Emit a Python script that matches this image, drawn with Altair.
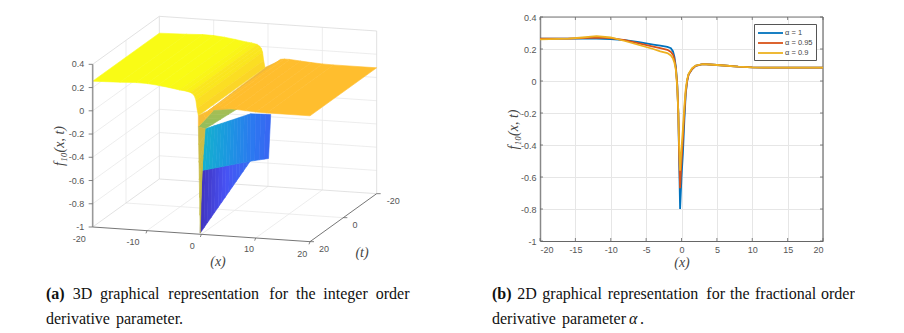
import altair as alt
import pandas as pd

# ---------- 2D panel data ----------
X_A1 = [-20,-16,-12,-10,-8,-6,-4,-3,-2,-1.5,-1.2,-1,-.8,-.6,-.45,-.35,-.2,0,.2,.4,.6,.8,1,1.5,2,3,4,6,8,10,12,20]
Z_A1 = [.265,.265,.265,.262,.255,.243,.228,.221,.213,.205,.185,.15,.09,-.02,-.2,-.45,-.8,-.6,-.45,-.25,-.08,0,.04,.075,.095,.105,.103,.097,.09,.085,.083,.083]
X_A2 = [-20,-16,-14,-12,-10,-8,-6,-4,-3,-2,-1.5,-1.2,-1,-.8,-.6,-.45,-.35,-.2,0,.2,.4,.6,.8,1,1.5,2,3,4,6,8,10,12,20]
Z_A2 = [.265,.265,.268,.272,.268,.255,.235,.215,.205,.195,.182,.165,.135,.08,-.03,-.2,-.42,-.67,-.5,-.36,-.2,-.07,0,.04,.075,.095,.105,.103,.097,.09,.085,.083,.083]
Z_A3 = [.26,.265,.272,.28,.272,.25,.225,.2,.185,.175,.16,.14,.115,.07,-.04,-.2,-.38,-.56,-.42,-.3,-.16,-.05,.01,.045,.08,.097,.105,.103,.097,.09,.085,.083,.083]
ALPHAS = ["α = 1", "α = 0.95", "α = 0.9"]
LINE_COLORS = ["#0072BD", "#D95319", "#EDB120"]
X_TICKS = [-20,-15,-10,-5,0,5,10,15,20]
Y_TICKS = [-1,-.8,-.6,-.4,-.2,0,.2,.4]

# ---------- 3D surface data ----------
LEFT_X = [-20,-15,-12,-10,-8,-6,-4,-3,-2,-1.5,-1.2,-1,-.8,-.55]
LEFT_Z = [.255,.262,.268,.266,.258,.245,.23,.225,.215,.2,.18,.15,.08,.02]
LEFT_C = [1,1,1,1,1,1,.99,.98,.97,.93,.96,.93,.92,.89]
RIGHT_X = [2.3,3,4,6,8,10,12,20]
RIGHT_Z = [.1,.105,.105,.097,.09,.085,.083,.083]
RIGHT_C = [.85,.85,.85,.85,.85,.85,.85,.85]
# valley patches: four corners (x, t, f, colour position)
BLUE_TIP = [(-.2,20,-.99,.02),(.1,20,-.45,.04),(.1,-9,-.67,.17),(.1,-9,-.67,.17)]
CYAN_LEFT = [(.1,20,-.45,.41),(.7,20,-.09,.38),(.5,-8,-.25,.22),(.1,-9,-.67,.2)]
BLUE_RIGHT = [(.1,-9,-.67,.2),(.5,-8,-.25,.22),(.5,-20,-.38,.15),(.1,-20,-.76,.15)]
GREEN = [(-.55,20,-.075,.66),(.7,20,-.09,.64),(.7,1,-.117,.66),(-.55,11,-.03,.69)]
ORANGE_STRIP = [(-.55,14,0,.8),(2.5,20,.11,.8),(2.2,-20,.09,.8),(-.55,-20,.02,.8)]
ORANGE_FRONT = [(-.55,11,-.03,.82),(6.5,20,.097,.84),(2.5,20,.11,.84),(-.55,14,0,.82)]
YELLOW_FRONT = [(-.55,20,.02,.86),(-.55,20,-.075,.78),(-.55,11,-.03,.82),(-.55,14,0,.86)]
STRIP = [(-.55,20,-.075,.75),(.7,20,-.09,.74),(.1,20,-.45,.73),(-.2,20,-.99,.7)]
Z3_TICKS = [-1,-.8,-.6,-.4,-.2,0,.2,.4]
X3_TICKS = [-20,-10,0,10,20]
T3_TICKS = [-20,0,20]

# ---------- layout of the left view ----------
W, H = 532, 312
PANEL_X, PANEL_Y = 8, 16

def proj(x, t, z, dx=0, dy=0):
    w, u = x + 20, 20 - t
    xz = 188 + 16.3 * w + 5 * u + dx
    yz = 678 + 1.1 * w - 3.6 * u - 348.6 * (z + 1) + dy
    return 30 + xz / 3 - PANEL_X, yz / 3 - PANEL_Y

features = []
def add_quad(a, b, c, d, n=1):
    # a-b is one edge, d-c the opposite one, split into n strips
    for i in range(n):
        s0, s1 = i / n, (i + 1) / n
        def mix(p, q, s):
            return tuple(p[k] + (q[k] - p[k]) * s for k in range(4))
        vs = [mix(a, d, s0), mix(b, c, s0), mix(b, c, s1), mix(a, d, s1)]
        ring = [list(proj(v[0], v[1], v[2])) for v in vs]
        ring.append(ring[0])
        col = sum(v[3] for v in vs) / 4
        features.append({"type": "Feature", "properties": {"c": col},
                         "geometry": {"type": "Polygon", "coordinates": [ring]}})

def add_sheet(xs, zs, cs):
    for i in range(len(xs) - 1):
        add_quad((xs[i], 20, zs[i], cs[i]), (xs[i], -20, zs[i], cs[i]),
                 (xs[i+1], -20, zs[i+1], cs[i+1]), (xs[i+1], 20, zs[i+1], cs[i+1]))

add_quad(*BLUE_TIP, n=14)
add_quad(*CYAN_LEFT, n=14)
add_quad(*BLUE_RIGHT, n=4)
add_quad(*ORANGE_STRIP, n=1)
add_quad(*ORANGE_FRONT, n=1)
add_quad(*GREEN, n=4)
add_quad(*STRIP, n=6)
add_quad(*YELLOW_FRONT, n=2)
add_sheet(LEFT_X, LEFT_Z, LEFT_C)
add_sheet(RIGHT_X, RIGHT_Z, RIGHT_C)

PARULA_POS = [0,.1,.2,.3,.4,.5,.6,.7,.8,.85,.9,1]
PARULA = ["#3E26A8","#4752F4","#2C78F0","#1B98E0","#14B2CD","#26BDA8","#6FC070","#B7BD4A","#F0B93C","#FFBE2E","#FBD428","#F9FB15"]
cscale = alt.Scale(domain=PARULA_POS, range=PARULA, interpolate="rgb")

surface = alt.Chart(alt.Data(values=features)).mark_geoshape(strokeWidth=0.6).encode(
    fill=alt.Fill("properties.c:Q", scale=cscale, legend=None),
    stroke=alt.Stroke("properties.c:Q", scale=cscale, legend=None),
).project(type="identity", scale=1, translate=[0, 0])

xs = alt.X("px:Q", scale=alt.Scale(domain=[0, W], nice=False, zero=False), axis=None)
ys = alt.Y("py:Q", scale=alt.Scale(domain=[H, 0], nice=False, zero=False), axis=None)

def segs(rows):
    out = []
    for i, (p, q) in enumerate(rows):
        out.append({"id": i, "o": 0, "px": p[0], "py": p[1]})
        out.append({"id": i, "o": 1, "px": q[0], "py": q[1]})
    return pd.DataFrame(out)

def lines(rows, color, width):
    return alt.Chart(segs(rows)).mark_line(color=color, strokeWidth=width).encode(
        x=xs, y=ys, detail="id:N", order="o:Q")

grid3 = []
for z in Z3_TICKS[1:-1]:
    grid3.append((proj(-20, 20, z), proj(-20, -20, z)))
    grid3.append((proj(-20, -20, z), proj(20, -20, z)))
for x in X3_TICKS[1:-1]:
    grid3.append((proj(x, -20, -1), proj(x, -20, .4)))
    grid3.append((proj(x, 20, -1), proj(x, -20, -1)))
grid3.append((proj(-20, 0, -1), proj(-20, 0, .4)))
grid3.append((proj(-20, 0, -1), proj(20, 0, -1)))
box3 = [(proj(-20, 20, .4), proj(-20, -20, .4)), (proj(-20, -20, .4), proj(20, -20, .4)),
        (proj(20, -20, .4), proj(20, -20, -1)), (proj(-20, -20, .4), proj(-20, -20, -1)),
        (proj(-20, -20, -1), proj(-20, 20, -1)), (proj(-20, -20, -1), proj(20, -20, -1))]
axes3 = [(proj(-20, 20, -1), proj(20, 20, -1)), (proj(20, 20, -1), proj(20, -20, -1))]
ticks3 = [(proj(x, 20, -1), proj(x, 20, -1, dx=-3, dy=8)) for x in X3_TICKS[1:]]
ticks3 += [(proj(20, t, -1), proj(20, t, -1, dx=12, dy=0)) for t in T3_TICKS]
ticks3 += [(proj(-20, 20, z), proj(-20, 20, z, dx=-12, dy=0)) for z in Z3_TICKS]
zaxis3 = [(proj(-20, 20, -1), proj(-20, 20, .4))]

def fmt(v):
    return f"{v:g}"

def text_layer(rows, size, color, align="center", baseline="middle", font="Liberation Sans", **kw):
    df = pd.DataFrame(rows, columns=["px", "py", "label"])
    return alt.Chart(df).mark_text(fontSize=size, color=color, align=align, baseline=baseline, font=font, **kw).encode(
        x=xs, y=ys, text="label:N")

TICK_GREY = "#555555"
z_labels = [(*proj(-20, 20, z, dx=-25), fmt(z)) for z in Z3_TICKS]
X_OFF = [(-40, 36), (-42, 35), (-27, 36), (-20, 33), (-23, 36)]
x_labels = [(*proj(x, 20, -1, dx=o[0], dy=o[1]), fmt(x)) for x, o in zip(X3_TICKS, X_OFF)]
T_OFF = [(50, 22), (35, 22), (42, 21)]
t_labels = [(*proj(20, t, -1, dx=o[0], dy=o[1]), fmt(t)) for t, o in zip(T3_TICKS, T_OFF)]

SERIF = "Liberation Serif"
def page(x, y):
    return x - PANEL_X, y - PANEL_Y

titles3 = [(*page(218, 261), "(x)"), (*page(362, 252), "(t)")]
ftitle3 = [(*page(60, 145), "f₁₀(x, t)")]

CAP_Y1, CAP_Y2 = 297.7, 323.3
caption_plain = [
    (72.7, CAP_Y1, "3D"), (100, CAP_Y1, "graphical"), (168.3, CAP_Y1, "representation"),
    (269.3, CAP_Y1, "for"), (296, CAP_Y1, "the"), (323.3, CAP_Y1, "integer"), (375.7, CAP_Y1, "order"),
    (46, CAP_Y2, "derivative"), (116, CAP_Y2, "parameter."),
    (517.3, CAP_Y1, "2D"), (542.3, CAP_Y1, "graphical"), (607.7, CAP_Y1, "representation"),
    (706.3, CAP_Y1, "for"), (730, CAP_Y1, "the"), (755, CAP_Y1, "fractional"), (821, CAP_Y1, "order"),
    (492, CAP_Y2, "derivative"), (562, CAP_Y2, "parameter"), (640, CAP_Y2, "."),
]
caption_bold = [(46, CAP_Y1, "(a)"), (492, CAP_Y1, "(b)")]
caption_ital = [(629, CAP_Y2, "α")]
def cap(rows):
    return [(*page(x, y), s) for x, y, s in rows]

CAP_SIZE = 16
CAP_COLOR = "#111111"
left = alt.layer(
    lines(grid3, "#E8E8E8", 0.8),
    lines(box3, "#DADADA", 0.8),
    surface,
    lines(axes3, "#666666", 0.9),
    lines(zaxis3, "#999999", 1.6),
    lines(ticks3, "#666666", 0.8),
    text_layer(z_labels, 9, TICK_GREY, align="right"),
    text_layer(x_labels, 9, TICK_GREY),
    text_layer(t_labels, 9, TICK_GREY),
    text_layer(titles3, 14, "#444444", font=SERIF, fontStyle="italic"),
    text_layer(ftitle3, 14, "#444444", font=SERIF, fontStyle="italic", angle=270),
    text_layer(cap(caption_plain), CAP_SIZE, CAP_COLOR, align="left", baseline="alphabetic", font=SERIF),
    text_layer(cap(caption_bold), CAP_SIZE, CAP_COLOR, align="left", baseline="alphabetic", font=SERIF, fontWeight="bold"),
    text_layer(cap(caption_ital), CAP_SIZE, CAP_COLOR, align="left", baseline="alphabetic", font=SERIF, fontStyle="italic"),
).properties(width=W, height=H)

# ---------- right panel ----------
frames = []
for name, xv, zv in zip(ALPHAS, [X_A1, X_A2, X_A2], [Z_A1, Z_A2, Z_A3]):
    frames.append(pd.DataFrame({"x": xv, "f": zv, "alpha": name}))
curves = pd.concat(frames, ignore_index=True)
curves["o"] = curves["alpha"].map({a: i for i, a in enumerate(ALPHAS)})

PW, PH = 283, 224
rx = alt.X("x:Q", scale=alt.Scale(domain=[-20, 20], nice=False, zero=False),
           axis=alt.Axis(values=X_TICKS, title="(x)", labelExpr="'' + datum.value", grid=True, gridColor="#E6E6E6", gridWidth=1,
                         tickSize=0, labelPadding=4, labelFontSize=9, labelColor=TICK_GREY, labelFont="Liberation Sans",
                         domainColor="#666666", titleFont=SERIF, titleFontStyle="italic", titleFontWeight="normal",
                         titleFontSize=14, titleColor="#444444", titlePadding=1))
ry = alt.Y("f:Q", scale=alt.Scale(domain=[-1, .4], nice=False, zero=False),
           axis=alt.Axis(values=Y_TICKS, title="f₁₀(x, t)", labelExpr="'' + datum.value", grid=True, gridColor="#E6E6E6", gridWidth=1,
                         tickSize=0, labelPadding=4, labelFontSize=9, labelColor=TICK_GREY, labelFont="Liberation Sans",
                         domainColor="#888888", domainWidth=1.5, titleFont=SERIF, titleFontStyle="italic",
                         titleFontWeight="normal", titleFontSize=14, titleColor="#444444", titlePadding=0))

def edge_ticks():
    dx = pd.DataFrame({"x": X_TICKS})
    dy = pd.DataFrame({"f": Y_TICKS})
    rule = dict(color="#666666", strokeWidth=0.8)
    return [
        alt.Chart(dy).mark_rule(**rule).encode(y=ry, x=alt.value(0), x2=alt.value(3)),
        alt.Chart(dy).mark_rule(**rule).encode(y=ry, x=alt.value(PW - 3), x2=alt.value(PW)),
        alt.Chart(dx).mark_rule(**rule).encode(x=rx, y=alt.value(PH - 3), y2=alt.value(PH)),
        alt.Chart(dx).mark_rule(**rule).encode(x=rx, y=alt.value(0), y2=alt.value(3)),
    ]

frame = alt.Chart(pd.DataFrame({"x": [-20, 20], "f": [.4, .4]})).mark_line(color="#777777", strokeWidth=1).encode(x=rx, y=ry)
frame_r = alt.Chart(pd.DataFrame({"x": [20, 20], "f": [-1, .4]})).mark_line(color="#888888", strokeWidth=1.5).encode(x=rx, y=ry)

line2d = alt.Chart(curves).mark_line(strokeWidth=1.8, clip=True).encode(
    x=rx, y=ry,
    color=alt.Color("alpha:N", sort=ALPHAS,
                    scale=alt.Scale(domain=ALPHAS, range=LINE_COLORS),
                    legend=alt.Legend(orient="none", legendX=746, legendY=7, title=None, fillColor="white",
                                      strokeColor="#555555", symbolType="M-1,0H4", symbolSize=100,
                                      symbolStrokeWidth=1.8, labelFontSize=7.5, labelColor="#444444",
                                      labelFont="Liberation Sans", padding=3, rowPadding=0, labelOffset=16)),
    order="o:Q",
)

right = alt.layer(frame, frame_r, line2d, *edge_ticks()).properties(width=PW, height=PH)

chart = alt.hconcat(left, right, spacing=0, bounds="flush").properties(
    padding={"left": 0, "top": 5, "right": 0, "bottom": 0}
).configure_view(stroke=None)

chart.save("out.html", embed_options={"renderer": "svg", "actions": False})
